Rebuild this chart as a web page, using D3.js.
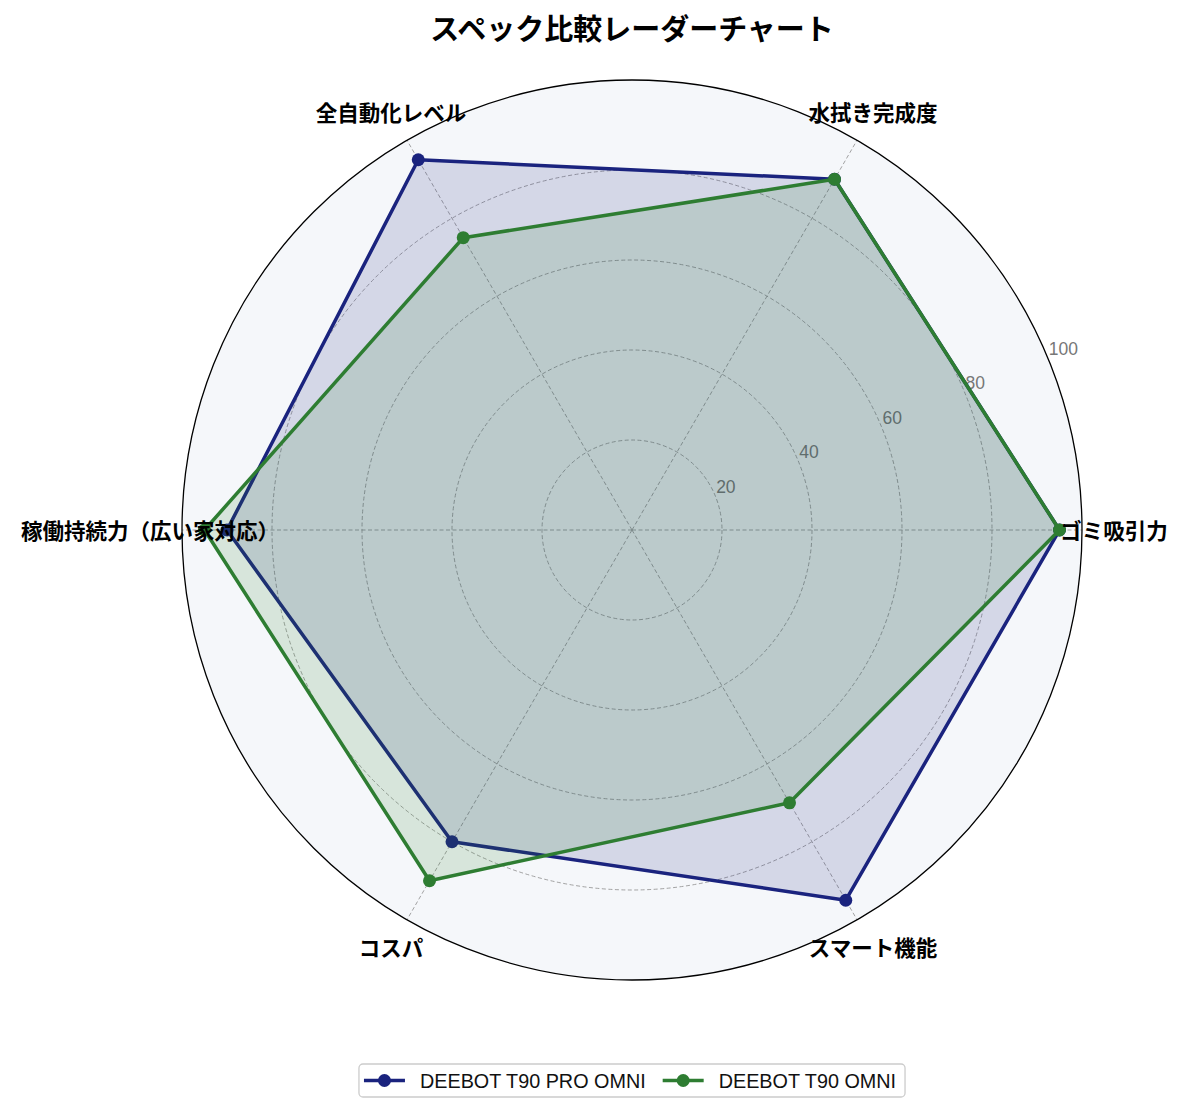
<!DOCTYPE html>
<html>
<head>
<meta charset="utf-8">
<script src="https://cdn.jsdelivr.net/npm/d3@7"></script>
<style>
  body { margin: 0; background: #fff; }
  svg { font-family: "Liberation Sans", "Noto Sans CJK JP", sans-serif; }
</style>
</head>
<body>
<div id="chart"></div>
<script>
// Data
const categories = ['ゴミ吸引力', '水拭き完成度', '全自動化レベル', '稼働持続力（広い家対応）', 'コスパ', 'スマート機能'];
const seriesNames = ['DEEBOT T90 PRO OMNI', 'DEEBOT T90 OMNI'];
const proValues = [95, 90, 95, 90, 80, 95];
const omniValues = [95, 90, 75, 95, 90, 70];
const radialTicks = [20, 40, 60, 80, 100];
const colors = ['#1a237e', '#2e7d32'];

const width = 1185;
const height = 1112;
const cx = 632, cy = 530;
const outerR = 450;

const svg = d3.select('#chart')
    .append('svg')
    .attr('width', width)
    .attr('height', height);

const r = d3.scaleLinear().domain([0, 100]).range([0, outerR]);
// matplotlib-style polar: start at 3 o'clock, counter-clockwise
const angle = d3.scaleLinear().domain([0, categories.length]).range([0, 2 * Math.PI]);

function px(i, v) { return cx + r(v) * Math.cos(angle(i)); }
function py(i, v) { return cy - r(v) * Math.sin(angle(i)); }

const g = svg.append('g');

// polar background
g.append('circle')
    .attr('cx', cx).attr('cy', cy)
    .attr('r', r(100))
    .attr('fill', '#f5f7fa');

const series = [proValues, omniValues];

// grid circles
g.selectAll('.grid-circle')
    .data(radialTicks.slice(0, -1))
    .enter()
    .append('circle')
    .attr('class', 'grid-circle')
    .attr('cx', cx).attr('cy', cy)
    .attr('r', d => r(d))
    .attr('fill', 'none')
    .attr('stroke', '#999')
    .attr('stroke-width', 0.9)
    .attr('stroke-dasharray', '4,2.5');

// spokes
g.selectAll('.spoke')
    .data(categories)
    .enter()
    .append('line')
    .attr('class', 'spoke')
    .attr('x1', cx).attr('y1', cy)
    .attr('x2', (d, i) => px(i, 100))
    .attr('y2', (d, i) => py(i, 100))
    .attr('stroke', '#999')
    .attr('stroke-width', 0.9)
    .attr('stroke-dasharray', '4,2.5');

// radial tick labels at 22.5 degrees
const labelAngle = Math.PI / 8;
g.selectAll('.rtick')
    .data(radialTicks)
    .enter()
    .append('text')
    .attr('class', 'rtick')
    .attr('x', d => cx + r(d) * Math.cos(labelAngle) + 1)
    .attr('y', d => cy - r(d) * Math.sin(labelAngle) - 3)
    .attr('font-size', 17.5)
    .attr('fill', '#777')
    .text(d => d);

const line = d3.lineRadial()
    .angle((d, i) => Math.PI / 2 - angle(i))
    .radius(d => r(d))
    .curve(d3.curveLinearClosed);

series.forEach((vals, s) => {
    const sg = g.append('g').attr('transform', `translate(${cx},${cy})`);
    sg.append('path')
        .datum(vals)
        .attr('d', line)
        .attr('fill', colors[s])
        .attr('fill-opacity', 0.15)
        .attr('stroke', 'none');
    sg.append('path')
        .datum(vals)
        .attr('d', line)
        .attr('fill', 'none')
        .attr('stroke', colors[s])
        .attr('stroke-width', 3.5)
        .attr('stroke-linejoin', 'round');
    g.selectAll('.dot' + s)
        .data(vals)
        .enter()
        .append('circle')
        .attr('cx', (d, i) => px(i, d))
        .attr('cy', (d, i) => py(i, d))
        .attr('r', 6.5)
        .attr('fill', colors[s]);
});

// outer frame
g.append('circle')
    .attr('cx', cx).attr('cy', cy)
    .attr('r', r(100))
    .attr('fill', 'none')
    .attr('stroke', '#000')
    .attr('stroke-width', 1.3);

// category labels
g.selectAll('.cat')
    .data(categories)
    .enter()
    .append('text')
    .attr('class', 'cat')
    .attr('x', (d, i) => cx + 482 * Math.cos(angle(i)))
    .attr('y', (d, i) => cy - 482 * Math.sin(angle(i)) - 1)
    .attr('text-anchor', 'middle')
    .attr('dominant-baseline', 'central')
    .attr('font-size', 21.5)
    .attr('font-weight', 'bold')
    .attr('font-family', '"Noto Sans CJK JP", sans-serif')
    .text(d => d);

// title
svg.append('text')
    .attr('x', cx)
    .attr('y', 27)
    .attr('text-anchor', 'middle')
    .attr('dominant-baseline', 'central')
    .attr('font-size', 29)
    .attr('font-weight', 'bold')
    .attr('font-family', '"Noto Sans CJK JP", sans-serif')
    .text('スペック比較レーダーチャート');

// legend
const legend = svg.append('g');
const box = legend.append('rect')
    .attr('fill', '#fff')
    .attr('stroke', '#ccc')
    .attr('stroke-width', 1.3)
    .attr('rx', 4);

let xPos = 0;
seriesNames.forEach((name, s) => {
    const it = legend.append('g').attr('transform', `translate(${xPos},0)`);
    it.append('line')
        .attr('x1', 0).attr('x2', 41)
        .attr('y1', 0).attr('y2', 0)
        .attr('stroke', colors[s])
        .attr('stroke-width', 3.5);
    it.append('circle')
        .attr('cx', 20.5).attr('cy', 0)
        .attr('r', 6.5)
        .attr('fill', colors[s]);
    const t = it.append('text')
        .attr('x', 56)
        .attr('y', 0)
        .attr('dominant-baseline', 'central')
        .attr('font-size', 19.8)
        .attr('fill', '#111')
        .text(name);
    xPos += 56 + t.node().getComputedTextLength() + 17;
});
const legendW = xPos - 17;
const lx = cx - (legendW + 4) / 2;
legend.attr('transform', `translate(${lx},1080.5)`);
box.attr('x', -5).attr('y', -16.5)
    .attr('width', legendW + 14)
    .attr('height', 33);
</script>
</body>
</html>
